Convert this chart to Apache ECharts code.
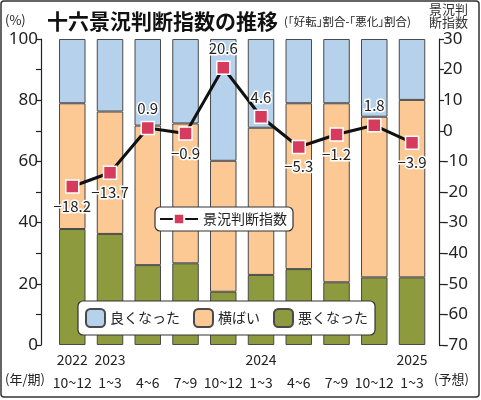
<!DOCTYPE html>
<html>
<head>
<meta charset="utf-8">
<script src="https://cdn.jsdelivr.net/npm/echarts@6/dist/echarts.min.js"></script>
<style>
  html, body { margin: 0; padding: 0; background: #fff; }
  #chart { width: 481px; height: 400px; }
</style>
</head>
<body>
<div id="chart"></div>
<script>
const years = ["2022", "2023", "", "", "", "2024", "", "", "", "2025"];
const periods = ["10~12", "1~3", "4~6", "7~9", "10~12", "1~3", "4~6", "7~9", "10~12", "1~3"];
const better = [21.0, 23.7, 28.3, 27.6, 39.8, 29.0, 21.0, 21.0, 25.4, 19.9];
const flat = [41.1, 40.0, 45.6, 45.7, 42.8, 48.1, 54.2, 58.5, 52.5, 58.0];
const worse = [37.9, 36.3, 26.1, 26.7, 17.4, 22.9, 24.8, 20.5, 22.1, 22.1];
const diffIndex = [-18.2, -13.7, 0.9, -0.9, 20.6, 4.6, -5.3, -1.2, 1.8, -3.9];

const chart = echarts.init(document.getElementById("chart"));
const jp = "'Noto Sans CJK JP', sans-serif";
const labelSide = ["bottom", "bottom", "top", "bottom", "top", "top", "bottom", "bottom", "top", "bottom"];

function barSeries(name, data, color) {
    return {
        name,
        type: "bar",
        stack: "share",
        barWidth: 26.5,
        data,
        itemStyle: {color, borderColor: "#4a4a4a", borderWidth: 1},
        z: 2
    };
}

chart.setOption({
    animation: false,
    grid: {left: 53.4, right: 50.1, top: 39, bottom: 55},
    legend: [
        {
            data: ["景況判断指数"],
            left: 155, top: 207,
            padding: [5, 6, 5, 4],
            itemWidth: 38, itemHeight: 13, itemGap: 6,
            backgroundColor: "#fff", borderColor: "#333", borderWidth: 1.2, borderRadius: 5,
            textStyle: {fontFamily: jp, fontSize: 14, color: "#222"}
        },
        {
            data: ["良くなった", "横ばい", "悪くなった"],
            left: 78, top: 301,
            padding: 7,
            itemWidth: 19, itemHeight: 18, itemGap: 13,
            backgroundColor: "#fff", borderColor: "#333", borderWidth: 1.2, borderRadius: 5,
            textStyle: {fontFamily: jp, fontSize: 14, color: "#222"}
        }
    ],
    xAxis: {
        type: "category",
        data: periods,
        axisLine: {show: false},
        axisTick: {show: false},
        axisLabel: {
            margin: 3,
            interval: 0,
            fontFamily: jp,
            fontSize: 14,
            lineHeight: 23,
            color: "#222",
            formatter: (value, index) => `${years[index] || " "}\n${value}`
        }
    },
    yAxis: [
        {
            type: "value", min: 0, max: 100, interval: 10, offset: 12.4,
            splitLine: {show: false},
            axisLine: {show: true, lineStyle: {color: "#222", width: 1.2}},
            axisTick: {show: true, length: 5, lineStyle: {color: "#222", width: 1.2}},
            axisLabel: {
                margin: 3, fontFamily: "'Noto Sans', sans-serif", fontSize: 17, color: "#222",
                formatter: v => (v % 20 === 0 ? String(v) : "")
            }
        },
        {
            type: "value", min: -70, max: 30, interval: 10, offset: 8.1, position: "right",
            splitLine: {show: false},
            axisLine: {show: true, lineStyle: {color: "#222", width: 1.2}},
            axisTick: {show: true, length: 5, lineStyle: {color: "#222", width: 1.2}},
            axisLabel: {margin: 4, fontFamily: "'Noto Sans', sans-serif", fontSize: 17, color: "#222"}
        }
    ],
    series: [
        barSeries("悪くなった", worse, "#8e9a3e"),
        barSeries("横ばい", flat, "#fcc894"),
        barSeries("良くなった", better, "#b6d1ec"),
        {
            name: "景況判断指数",
            type: "line",
            yAxisIndex: 1,
            data: diffIndex.map((v, i) => ({value: v, label: {position: labelSide[i]}})),
            symbol: "rect",
            symbolSize: 13,
            lineStyle: {color: "#111", width: 3},
            itemStyle: {color: "#d63a5c", borderColor: "#fff", borderWidth: 1.5},
            label: {
                show: true,
                distance: 5,
                fontFamily: jp,
                fontSize: 15,
                color: "#222",
                textBorderColor: "#fff",
                textBorderWidth: 3,
                formatter: p => String(p.value).replace("-", "\u2212")
            },
            z: 5
        }
    ],
    graphic: [
        {type: "rect", shape: {x: 1, y: 1, width: 478, height: 396, r: 3}, style: {fill: "none", stroke: "#333", lineWidth: 1.5}, silent: true},
        {type: "text", left: 5, top: 14, style: {text: "(%)", fontFamily: jp, fontSize: 13, fill: "#222"}},
        {type: "text", left: 47, top: 11, style: {text: "十六景況判断指数の推移", fontFamily: jp, fontSize: 21, fontWeight: "bold", fill: "#111"}},
        {type: "text", left: 284, top: 16, style: {text: "(｢好転｣割合-｢悪化｣割合)", fontFamily: jp, fontSize: 11.5, fill: "#222"}},
        {type: "text", left: 429, top: 3, style: {text: "景況判\n断指数", fontFamily: jp, fontSize: 13, lineHeight: 13, fill: "#333"}},
        {type: "text", left: 5, top: 373, style: {text: "(年/期)", fontFamily: jp, fontSize: 13, fill: "#222"}},
        {type: "text", left: 434, top: 373, style: {text: "(予想)", fontFamily: jp, fontSize: 13, fill: "#222"}}
    ]
});
</script>
</body>
</html>
